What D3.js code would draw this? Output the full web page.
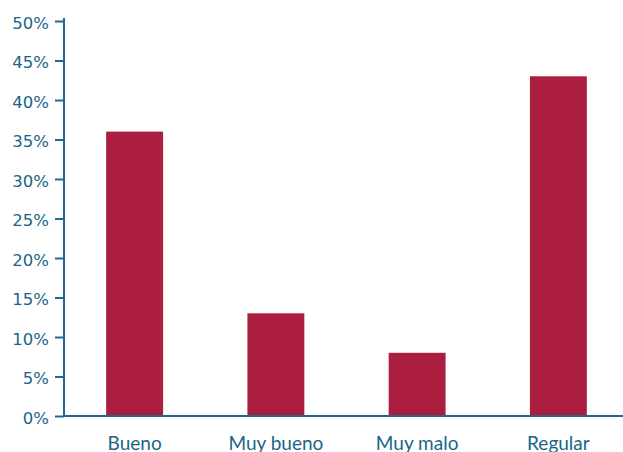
<!DOCTYPE html>
<html>
<head>
<meta charset="utf-8">
<script src="https://cdn.jsdelivr.net/npm/d3@7"></script>
<style>
  html, body { margin: 0; padding: 0; background: #fff; }
  svg { display: block; }
</style>
</head>
<body>
<svg id="chart" width="623" height="452"></svg>
<script>
// Ratings and their share of responses (%)
const categories = ["Bueno", "Muy bueno", "Muy malo", "Regular"];
const shares = [36, 13, 8, 43];
const yTicks = [0, 5, 10, 15, 20, 25, 30, 35, 40, 45, 50];

const axisColor = "#1d6a8e";
const textColor = "#1a6587";
const barColor = "#ab1e40";

const svg = d3.select("#chart");

const x = d3.scaleBand()
  .domain(categories)
  .range([64, 629])
  .paddingInner(0.597)
  .paddingOuter(0.2985);

const y = d3.scaleLinear()
  .domain([0, 50])
  .range([416, 21]);

// bars
svg.append("g")
  .selectAll("rect")
  .data(categories.map((c, i) => ({ c, v: shares[i] })))
  .join("rect")
  .attr("x", d => x(d.c))
  .attr("width", x.bandwidth())
  .attr("y", d => y(d.v))
  .attr("height", d => y(0) - y(d.v))
  .attr("fill", barColor);

// y axis
const yAxis = svg.append("g")
  .attr("transform", "translate(64,0)")
  .call(d3.axisLeft(y).tickValues(yTicks).tickSize(9).tickPadding(6)
    .tickFormat(d => d + "%"));
yAxis.select(".domain").attr("stroke", axisColor).attr("stroke-width", 2)
  .attr("d", "M0,18V416");
yAxis.selectAll(".tick line").attr("stroke", axisColor).attr("stroke-width", 2);
yAxis.selectAll(".tick text")
  .attr("fill", textColor)
  .attr("font-family", "DejaVu Sans, sans-serif")
  .attr("font-size", 16.5)
  .attr("dy", "0.45em");

// x axis
const xAxis = svg.append("g")
  .attr("transform", "translate(0,416)")
  .call(d3.axisBottom(x).tickSize(0).tickPadding(0));
xAxis.select(".domain").attr("stroke", axisColor).attr("stroke-width", 2)
  .attr("d", "M63,0H623");
xAxis.selectAll(".tick text")
  .attr("fill", textColor)
  .attr("font-family", "Lato, sans-serif")
  .attr("font-size", 19)
  .attr("dy", null)
  .attr("y", 34);
</script>
</body>
</html>
